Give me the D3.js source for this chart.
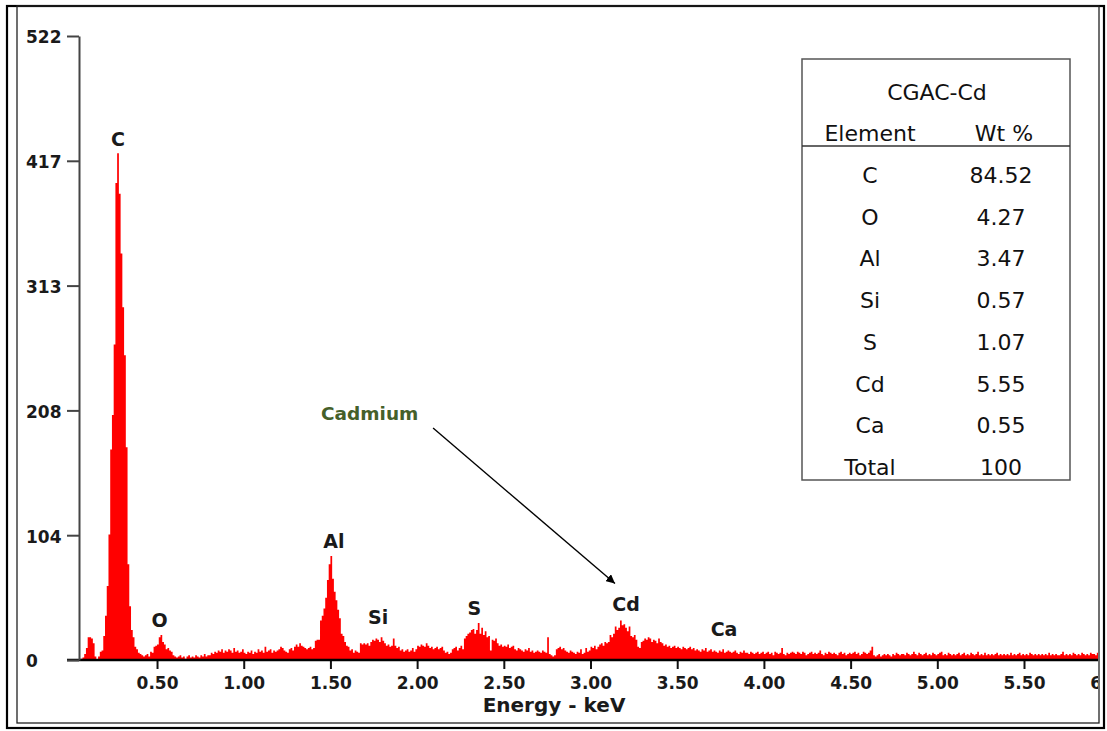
<!DOCTYPE html>
<html>
<head>
<meta charset="utf-8">
<script src="https://cdn.jsdelivr.net/npm/d3@7"></script>
<style>
  body { margin: 0; background: #fff; }
  svg text { font-family: "DejaVu Sans", sans-serif; }
</style>
</head>
<body>
<svg id="chart" width="1107" height="731"></svg>
<script>
// spectrum: counts per 10 eV channel, first channel starts at 0.05 keV
const energyStart = 0.05;
const binWidth = 0.01;
const counts = [
  0, 1, 2, 5, 10,                          // 0.05
  19, 19, 18, 14, 3, 0, 3, 7, 8, 20,       // 0.10
  37, 62, 105, 176, 205, 264, 399, 424, 390, 340,   // 0.20
  295, 255, 178, 80, 45, 25, 19, 11, 9, 6, // 0.30
  5, 4, 3, 4, 5, 3, 7, 6, 11, 12,          // 0.40
  13, 19, 21, 15, 13, 9, 10, 8, 7, 4,      // 0.50
  3, 2, 3, 4, 2, 3, 1, 3, 4, 2,            // 0.60
  3, 2, 4, 3, 2, 4, 3, 5, 3, 4,            // 0.70
  4, 6, 5, 7, 6, 8, 7, 9, 6, 8,            // 0.80
  7, 9, 8, 6, 10, 7, 8, 6, 7, 9,           // 0.90
  6, 5, 7, 6, 8, 5, 7, 6, 9, 7,            // 1.00
  8, 6, 11, 7, 8, 9, 6, 8, 7, 8,           // 1.10
  9, 11, 10, 8, 7, 6, 9, 10, 8, 11,        // 1.20
  13, 11, 14, 12, 11, 10, 9, 10, 11, 9,    // 1.30
  10, 16, 17, 17, 33, 37, 43, 52, 67, 80,  // 1.40
  87, 68, 57, 50, 42, 35, 22, 20, 15, 12,  // 1.50
  11, 8, 9, 6, 8, 7, 6, 14, 13, 14,        // 1.60
  13, 14, 12, 15, 17, 16, 18, 17, 15, 19,  // 1.70
  16, 14, 12, 13, 11, 12, 18, 12, 10, 11,  // 1.80
  8, 9, 7, 8, 9, 7, 8, 10, 7, 9,           // 1.90
  12, 11, 13, 12, 11, 14, 12, 10, 11, 9,   // 2.00
  10, 11, 9, 10, 11, 8, 6, 7, 5, 6,        // 2.10
  9, 10, 11, 8, 10, 12, 9, 18, 20, 22,     // 2.20
  23, 25, 26, 22, 25, 31, 22, 27, 21, 24,  // 2.30
  19, 20, 8, 17, 16, 18, 14, 12, 13, 11,   // 2.40
  12, 11, 13, 10, 11, 12, 9, 8, 10, 9,     // 2.50
  8, 7, 9, 8, 10, 7, 8, 6, 7, 8,           // 2.60
  7, 6, 8, 7, 6, 19, 5, 4, 3, 4,           // 2.70
  9, 10, 11, 9, 10, 8, 7, 6, 8, 7,         // 2.80
  6, 5, 7, 6, 9, 5, 6, 10, 7, 8,           // 2.90
  11, 10, 12, 9, 11, 13, 14, 12, 15, 14,   // 3.00
  15, 21, 19, 22, 28, 25, 27, 33, 29, 30,  // 3.10
  27, 24, 28, 20, 19, 21, 17, 11, 10, 15,  // 3.20
  16, 18, 17, 19, 18, 15, 17, 16, 14, 18,  // 3.30
  15, 14, 12, 13, 11, 12, 10, 11, 12, 10,  // 3.40
  11, 10, 9, 11, 10, 9, 10, 11, 9, 10,     // 3.50
  8, 9, 8, 7, 9, 8, 10, 7, 8, 9,           // 3.60
  7, 8, 7, 6, 8, 7, 9, 6, 7, 8,            // 3.70
  7, 6, 7, 8, 6, 5, 7, 6, 8, 6,            // 3.80
  6, 5, 7, 6, 5, 6, 7, 5, 6, 7,            // 3.90
  5, 6, 7, 5, 6, 4, 7, 6, 5, 6,            // 4.00
  10, 5, 4, 6, 5, 6, 7, 6, 5, 7,           // 4.10
  6, 5, 7, 6, 4, 5, 6, 7, 5, 6,            // 4.20
  5, 6, 8, 5, 4, 6, 5, 7, 6, 5,            // 4.30
  6, 5, 4, 6, 7, 5, 6, 4, 5, 6,            // 4.40
  5, 6, 7, 5, 6, 4, 5, 7, 6, 5,            // 4.50
  6, 8, 11, 4, 3, 4, 5, 3, 4, 5,           // 4.60
  4, 5, 4, 3, 5, 4, 6, 5, 4, 5,            // 4.70
  5, 4, 6, 5, 4, 5, 7, 5, 4, 6,            // 4.80
  5, 4, 5, 6, 4, 5, 4, 6, 5, 4,            // 4.90
  5, 6, 7, 4, 5, 4, 6, 5, 4, 5,            // 5.00
  4, 5, 6, 4, 5, 6, 4, 5, 4, 6,            // 5.10
  5, 4, 5, 7, 4, 5, 4, 6, 4, 5,            // 5.20
  4, 5, 4, 5, 6, 4, 5, 4, 5, 4,            // 5.30
  5, 4, 6, 4, 5, 4, 5, 6, 4, 5,            // 5.40
  4, 5, 4, 6, 5, 4, 5, 4, 5, 4,            // 5.50
  5, 4, 5, 4, 6, 4, 5, 4, 5, 4,            // 5.60
  4, 5, 7, 4, 5, 4, 5, 4, 6, 5,            // 5.70
  4, 5, 4, 6, 5, 4, 5, 4, 6, 5,            // 5.80
  5, 4, 6, 5, 4, 5, 4, 5, 6, 5             // 5.90
];

const yTickValues = [0, 104.4, 208.8, 313.2, 417.6, 522];
const yTickLabels = ["0", "104", "208", "313", "417", "522"];
const xTickValues = [0.5, 1, 1.5, 2, 2.5, 3, 3.5, 4, 4.5, 5, 5.5, 6];
const xTickLabels = ["0.50", "1.00", "1.50", "2.00", "2.50", "3.00", "3.50", "4.00", "4.50", "5.00", "5.50", "6.00"];

// peak labels: energy (keV) and count level of the text baseline
const peakNames = ["C", "O", "Al", "Si", "S", "Cd", "Ca"];
const peakEnergies = [0.275, 0.515, 1.52, 1.775, 2.33, 3.205, 3.77];
const peakLabelCounts = [430, 28, 94, 30, 38, 41, 20];

// table
const tableTitle = "CGAC-Cd";
const tableHeader = ["Element", "Wt %"];
const tableElements = ["C", "O", "Al", "Si", "S", "Cd", "Ca", "Total"];
const tableWt = ["84.52", "4.27", "3.47", "0.57", "1.07", "5.55", "0.55", "100"];

// annotation arrow (keV, counts)
const noteText = "Cadmium";
const noteFrom = [2.092, 194];
const noteTo = [3.141, 64];

const svg = d3.select("#chart");

const x = d3.scaleLinear().domain([0.05, 6]).range([79, 1110.7]);
const y = d3.scaleLinear().domain([0, 522]).range([660, 36]);

// frames
svg.append("rect").attr("x", 7).attr("y", 6).attr("width", 1097).attr("height", 722)
    .attr("fill", "none").attr("stroke", "#000").attr("stroke-width", 2.2);
svg.append("rect").attr("x", 17).attr("y", 6).attr("width", 1082).attr("height", 717)
    .attr("fill", "none").attr("stroke", "#222").attr("stroke-width", 1.3);

svg.append("clipPath").attr("id", "plotClip")
    .append("rect").attr("x", 60).attr("y", 0).attr("width", 1038).attr("height", 731);

const plot = svg.append("g").attr("clip-path", "url(#plotClip)");

// spectrum as a step area
const pts = counts.map((c, i) => ({ e: energyStart + i * binWidth, c: c }));
pts.push({ e: energyStart + counts.length * binWidth, c: counts[counts.length - 1] });

const area = d3.area()
    .curve(d3.curveStepAfter)
    .x(d => x(d.e))
    .y0(y(0))
    .y1(d => y(d.c));

plot.append("path")
    .datum(pts)
    .attr("d", area)
    .attr("fill", "#ff0000");

// y axis
const yAxis = svg.append("g")
    .attr("transform", "translate(79,0)")
    .call(d3.axisLeft(y).tickValues(yTickValues).tickFormat((d, i) => yTickLabels[i]).tickSize(12).tickSizeOuter(0));
yAxis.select(".domain").attr("stroke", "#444").attr("stroke-width", 2);
yAxis.selectAll(".tick line").attr("stroke", "#444").attr("stroke-width", 2);
yAxis.selectAll(".tick text")
    .attr("x", -53).attr("text-anchor", "start").attr("dy", "0.4em")
    .attr("font-size", 17).attr("font-weight", "bold").attr("fill", "#1a1a1a");

// x axis
const xAxis = plot.append("g")
    .attr("transform", "translate(0,660)")
    .call(d3.axisBottom(x).tickValues(xTickValues).tickFormat((d, i) => xTickLabels[i]).tickSize(9).tickSizeOuter(0));
xAxis.select(".domain").remove();
xAxis.selectAll(".tick line").attr("stroke", "#111").attr("stroke-width", 2);
xAxis.selectAll(".tick text")
    .attr("y", 17).attr("font-size", 17).attr("font-weight", "bold").attr("fill", "#1a1a1a");
plot.append("line").attr("x1", 67).attr("x2", 1099).attr("y1", 660).attr("y2", 660)
    .attr("stroke", "#000").attr("stroke-width", 2.6);

svg.append("text")
    .attr("x", 554).attr("y", 712)
    .attr("text-anchor", "middle")
    .attr("font-size", 20).attr("font-weight", "bold").attr("fill", "#1a1a1a")
    .text("Energy - keV");

// peak labels
svg.selectAll(".peak-label")
    .data(peakNames)
    .enter()
    .append("text")
    .attr("class", "peak-label")
    .attr("x", (d, i) => x(peakEnergies[i]))
    .attr("y", (d, i) => y(peakLabelCounts[i]))
    .attr("text-anchor", "middle")
    .attr("font-size", 19).attr("font-weight", "bold").attr("fill", "#1a1a1a")
    .text(d => d);

// Cadmium note + arrow
svg.append("defs").append("marker")
    .attr("id", "arrowHead")
    .attr("viewBox", "0 0 10 10")
    .attr("refX", 10).attr("refY", 5)
    .attr("markerWidth", 9).attr("markerHeight", 9)
    .attr("markerUnits", "userSpaceOnUse")
    .attr("orient", "auto")
    .append("path").attr("d", "M0,0 L10,5 L0,10 Z").attr("fill", "#000");

svg.append("line")
    .attr("x1", x(noteFrom[0])).attr("y1", y(noteFrom[1]))
    .attr("x2", x(noteTo[0])).attr("y2", y(noteTo[1]))
    .attr("stroke", "#000").attr("stroke-width", 1.4)
    .attr("marker-end", "url(#arrowHead)");

svg.append("text")
    .attr("x", 321).attr("y", 420)
    .attr("font-family", "'Liberation Sans', Arial, sans-serif")
    .attr("font-size", 18.5).attr("font-weight", "bold").attr("fill", "#45602a")
    .text(noteText);

// composition table
const table = svg.append("g").attr("font-family", "'Liberation Sans', Arial, sans-serif");
table.append("rect").attr("x", 802).attr("y", 59).attr("width", 268).attr("height", 421)
    .attr("fill", "#fff").attr("stroke", "#555").attr("stroke-width", 1.5);
table.append("line").attr("x1", 802).attr("x2", 1070).attr("y1", 146).attr("y2", 146)
    .attr("stroke", "#333").attr("stroke-width", 1.3);

table.append("text").attr("x", 937).attr("y", 100).attr("text-anchor", "middle")
    .attr("font-size", 22).attr("fill", "#111").text(tableTitle);
table.append("text").attr("x", 870).attr("y", 141).attr("text-anchor", "middle")
    .attr("font-size", 22).attr("fill", "#111").text(tableHeader[0]);
table.append("text").attr("x", 1004).attr("y", 141).attr("text-anchor", "middle")
    .attr("font-size", 22).attr("fill", "#111").text(tableHeader[1]);

const rowY = d3.scalePoint().domain(d3.range(tableElements.length)).range([183, 475]);

table.selectAll(".el")
    .data(tableElements)
    .enter()
    .append("text")
    .attr("class", "el")
    .attr("x", 870).attr("y", (d, i) => rowY(i))
    .attr("text-anchor", "middle").attr("font-size", 22).attr("fill", "#111")
    .text(d => d);

table.selectAll(".wt")
    .data(tableWt)
    .enter()
    .append("text")
    .attr("class", "wt")
    .attr("x", 1001).attr("y", (d, i) => rowY(i))
    .attr("text-anchor", "middle").attr("font-size", 22).attr("fill", "#111")
    .text(d => d);
</script>
</body>
</html>
